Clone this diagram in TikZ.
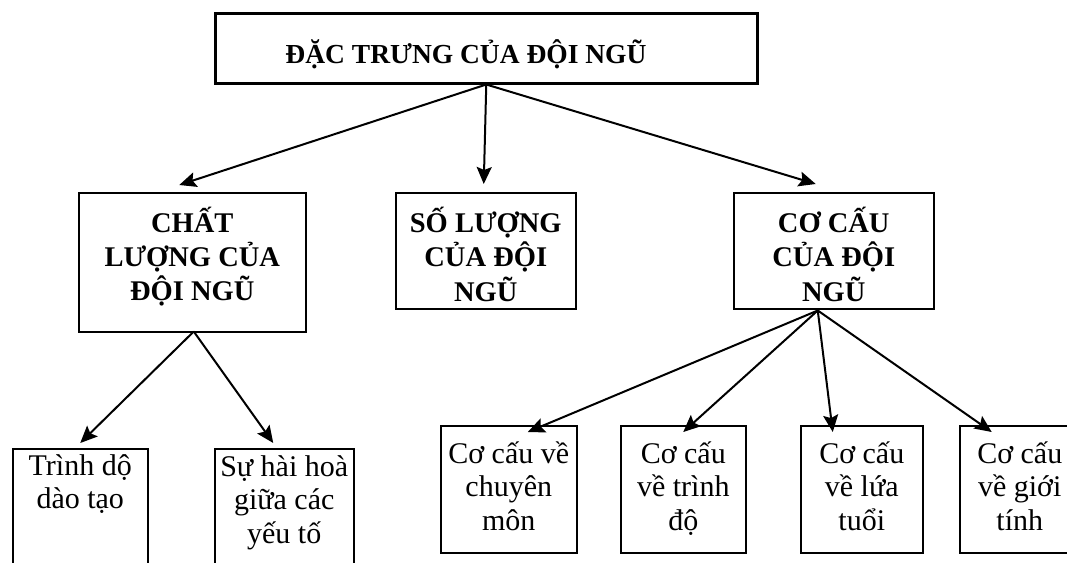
\documentclass[tikz,border=0pt]{standalone}
\usepackage{fontspec}
\setmainfont{Liberation Serif}
\usetikzlibrary{arrows.meta,calc}
\tikzset{
  box/.style={draw, line width=1.5pt, inner sep=0pt, anchor=north west},
  topbox/.style={draw, line width=2.5pt, inner sep=0pt, anchor=north west},
  toptxt/.style={inner sep=0pt, anchor=base, font=\fontsize{27.5}{33}\selectfont\bfseries},
  bigtxt/.style={inner sep=0pt, anchor=base, font=\fontsize{28.5}{33}\selectfont\bfseries},
  smalltxt/.style={inner sep=0pt, anchor=base, font=\fontsize{30}{33.5}\selectfont},
  arr/.style={line width=2pt, -{Stealth[length=17pt,width=15pt,inset=3pt]}}
}
\newcommand{\ml}[1]{\begin{tabular}[t]{@{}c@{}}#1\end{tabular}}
\begin{document}
\begin{tikzpicture}[x=1pt,y=-1pt]
\clip (0,0) rectangle (1067,562);
\fill[white] (0,0) rectangle (1067,562);
% boxes
\node[topbox, minimum width=542pt, minimum height=70pt] (top) at (214,12) {};
\node[box, minimum width=227pt, minimum height=139pt] (chat) at (78,192) {};
\node[box, minimum width=180pt, minimum height=116pt] (so) at (395,192) {};
\node[box, minimum width=200pt, minimum height=116pt] (co) at (733,192) {};
\node[box, minimum width=135pt, minimum height=130pt] (trinh) at (12,448) {};
\node[box, minimum width=139pt, minimum height=130pt] (su) at (214,448) {};
\node[box, minimum width=136pt, minimum height=127pt] (mon) at (440,425) {};
\node[box, minimum width=125pt, minimum height=127pt] (td) at (620,425) {};
\node[box, minimum width=122pt, minimum height=127pt] (lt) at (800,425) {};
\node[box, minimum width=120pt, minimum height=127pt] (gt) at (959,425) {};
% texts
\node[toptxt] (topT) at (466,63) {ĐẶC TRƯNG CỦA ĐỘI NGŨ};
\node[bigtxt] (chatT) at ($(chat.north)+(0,40)$) {\ml{CHẤT\\LƯỢNG CỦA\\ĐỘI NGŨ}};
\node[bigtxt] (soT) at ($(so.north)+(0,40)$) {\ml{SỐ LƯỢNG\\CỦA ĐỘI\\NGŨ}};
\node[bigtxt] (coT) at ($(co.north)+(0,40)$) {\ml{CƠ CẤU\\CỦA ĐỘI\\NGŨ}};
\node[smalltxt] (trinhT) at ($(trinh.north)+(0,27)$) {\ml{Trình dộ\\dào tạo}};
\node[smalltxt] (suT) at ($(su.north)+(0,28)$) {\ml{Sự hài hoà\\giữa các\\yếu tố}};
\node[smalltxt] (monT) at ($(mon.north)+(0,38)$) {\ml{Cơ cấu về\\chuyên\\môn}};
\node[smalltxt] (tdT) at ($(td.north)+(0,38)$) {\ml{Cơ cấu\\về trình\\độ}};
\node[smalltxt] (ltT) at ($(lt.north)+(0,38)$) {\ml{Cơ cấu\\về lứa\\tuổi}};
\node[smalltxt] (gtT) at ($(gt.north)+(0,38)$) {\ml{Cơ cấu\\về giới\\tính}};
% arrows
\draw[arr] (top.south) -- ($(chat.north)+(-13,-7)$);
\draw[arr] (top.south) -- ($(so.north)+(-2,-8)$);
\draw[arr] (top.south) -- ($(co.north)+(-18,-8)$);
\draw[arr] ($(chat.south)+(1.5,-1)$) -- ($(trinh.north)+(0,-5)$);
\draw[arr] ($(chat.south)+(1.5,-1)$) -- ($(su.north)+(-11,-5)$);
\draw[arr] ($(co.south)+(-16,1)$) -- ($(mon.north)+(19,7)$);
\draw[arr] ($(co.south)+(-16,1)$) -- ($(td.north)+(0,7)$);
\draw[arr] ($(co.south)+(-16,1)$) -- ($(lt.north)+(-29,7)$);
\draw[arr] ($(co.south)+(-16,1)$) -- ($(gt.north)+(-28,7)$);
\end{tikzpicture}
\end{document}
